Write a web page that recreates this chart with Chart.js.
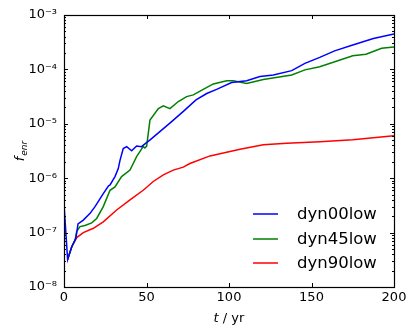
<!DOCTYPE html>
<html>
<head>
<meta charset="utf-8">
<script src="https://cdn.jsdelivr.net/npm/chart.js@4/dist/chart.umd.min.js"></script>
<style>
html,body{margin:0;padding:0;background:#fff;}
#wrap{width:415px;height:335px;position:relative;}
</style>
</head>
<body>
<div id="wrap"><canvas id="c" width="415" height="335"></canvas></div>
<script>
// ---- data ----
const seriesNames = ['dyn00low', 'dyn45low', 'dyn90low'];

const dyn00lowT = [0, 2.2, 4.7, 7.2, 8.5, 11.7, 15.8, 18.8, 23.8, 26.9, 27.9, 30.9, 32.9, 33.9, 35.9, 38, 41, 44, 47, 50, 52, 64, 72, 80, 86.5, 92.5, 101.6, 110.7, 118.8, 126.9, 138, 146, 155, 164, 175, 187.5, 200];
const dyn00lowF = [3.3e-7, 3.2e-8, 5.5e-8, 7.9e-8, 1.45e-7, 1.7e-7, 2.26e-7, 3.0e-7, 5.2e-7, 7.2e-7, 7.5e-7, 1.07e-6, 1.5e-6, 2.1e-6, 3.5e-6, 3.8e-6, 3.2e-6, 3.9e-6, 3.8e-6, 4.5e-6, 5.0e-6, 1.02e-5, 1.66e-5, 2.75e-5, 3.6e-5, 4.3e-5, 5.75e-5, 6.2e-5, 7.4e-5, 7.9e-5, 9.5e-5, 1.29e-4, 1.66e-4, 2.19e-4, 2.8e-4, 3.7e-4, 4.5e-4];

const dyn45lowT = [2.2, 4.7, 6.7, 7.7, 9.7, 12.7, 16.8, 19.8, 23.8, 27.9, 30.9, 34.9, 40, 44, 48, 49, 50.1, 52.1, 57.2, 60.2, 64.2, 69.3, 74.3, 78.4, 84.4, 90.5, 98.6, 102.6, 110.7, 120.8, 138, 146, 155, 175, 183, 192.5, 200];
const dyn45lowF = [3.2e-8, 5.5e-8, 7.2e-8, 1.05e-7, 1.29e-7, 1.35e-7, 1.51e-7, 1.82e-7, 3.0e-7, 6.0e-7, 6.9e-7, 1.07e-6, 1.41e-6, 2.5e-6, 3.8e-6, 3.6e-6, 3.9e-6, 1.17e-5, 1.9e-5, 2.14e-5, 1.9e-5, 2.57e-5, 3.16e-5, 3.4e-5, 4.3e-5, 5.4e-5, 6.2e-5, 6.2e-5, 5.5e-5, 6.5e-5, 7.9e-5, 9.8e-5, 1.12e-4, 1.78e-4, 1.9e-4, 2.45e-4, 2.57e-4];

const dyn90lowT = [2.2, 4.7, 7.7, 11.7, 17.8, 23.8, 31.9, 40, 48, 54.1, 60.2, 66.2, 72.3, 76.3, 88.5, 100.6, 106.7, 120.8, 135, 155, 175, 200];
const dyn90lowF = [3.2e-8, 5.5e-8, 8.1e-8, 1.0e-7, 1.2e-7, 1.58e-7, 2.6e-7, 4.0e-7, 6.0e-7, 8.7e-7, 1.15e-6, 1.41e-6, 1.6e-6, 1.86e-6, 2.57e-6, 3.1e-6, 3.4e-6, 4.1e-6, 4.4e-6, 4.7e-6, 5.1e-6, 6.0e-6];

const xTicks = [0, 50, 100, 150, 200];
const yTicks = [1e-8, 1e-7, 1e-6, 1e-5, 1e-4, 1e-3];
const yTickLabels = ['10⁻⁸', '10⁻⁷', '10⁻⁶', '10⁻⁵', '10⁻⁴', '10⁻³'];

// ---- helpers ----
function pts(t, f) { return t.map((v, i) => ({x: v, y: f[i]})); }
const FONT = "'DejaVu Sans', sans-serif";

const framePlugin = {
  id: 'frame',
  afterDatasetsDraw(chart) {
    const ctx = chart.ctx;
    const a = chart.chartArea;
    const xs = chart.scales.x, ys = chart.scales.y;
    ctx.save();
    ctx.strokeStyle = '#000';
    ctx.lineWidth = 1;
    ctx.beginPath();
    for (let d = 0; d < yTicks.length; d++) {
      const base = yTicks[d];
      const py = Math.round(ys.getPixelForValue(base)) + 0.5;
      ctx.moveTo(a.left, py); ctx.lineTo(a.left + 4, py);
      ctx.moveTo(a.right, py); ctx.lineTo(a.right - 4, py);
      if (d < yTicks.length - 1) {
        for (let m = 2; m <= 9; m++) {
          const my = Math.round(ys.getPixelForValue(base * m)) + 0.5;
          ctx.moveTo(a.left, my); ctx.lineTo(a.left + 2, my);
          ctx.moveTo(a.right, my); ctx.lineTo(a.right - 2, my);
        }
      }
    }
    xTicks.forEach(v => {
      const px = Math.round(xs.getPixelForValue(v)) + 0.5;
      ctx.moveTo(px, a.bottom); ctx.lineTo(px, a.bottom - 4);
      ctx.moveTo(px, a.top); ctx.lineTo(px, a.top + 4);
    });
    ctx.stroke();
    ctx.lineWidth = 1.2;
    ctx.strokeRect(Math.round(a.left) + 0.5, Math.round(a.top) + 0.5, Math.round(a.right - a.left), Math.round(a.bottom - a.top));

    // legend (no frame), inside lower right
    ctx.font = '16.5px ' + FONT;
    ctx.textBaseline = 'middle';
    ctx.textAlign = 'left';
    const offs = [73, 48, 24];
    chart.data.datasets.forEach((ds, i) => {
      const y = a.bottom - offs[i];
      ctx.strokeStyle = ds.borderColor;
      ctx.lineWidth = 1.5;
      ctx.beginPath();
      ctx.moveTo(a.right - 141, y); ctx.lineTo(a.right - 116, y);
      ctx.stroke();
      ctx.fillStyle = '#000';
      ctx.fillText(ds.label, a.right - 97, y + 1);
    });

    // axis titles
    ctx.fillStyle = '#000';
    ctx.textBaseline = 'alphabetic';
    const cx = (a.left + a.right) / 2;
    const by = a.bottom + 35;
    ctx.font = 'italic 13px ' + FONT;
    const wT = ctx.measureText('t').width;
    ctx.font = '13px ' + FONT;
    const rest = ' / yr';
    const wR = ctx.measureText(rest).width;
    let sx = cx - (wT + wR) / 2;
    ctx.font = 'italic 13px ' + FONT;
    ctx.fillText('t', sx, by);
    ctx.font = '13px ' + FONT;
    ctx.fillText(rest, sx + wT, by);

    ctx.translate(24, (a.top + a.bottom) / 2);
    ctx.rotate(-Math.PI / 2);
    ctx.font = 'italic 13px ' + FONT;
    const wf = ctx.measureText('f').width;
    ctx.font = 'italic 9px ' + FONT;
    const we = ctx.measureText('enr').width;
    const s0 = -(wf + we + 1) / 2;
    ctx.font = 'italic 13px ' + FONT;
    ctx.fillText('f', s0, 0);
    ctx.font = 'italic 9px ' + FONT;
    ctx.fillText('enr', s0 + wf + 1, 3);
    ctx.restore();
  }
};

new Chart(document.getElementById('c'), {
  type: 'line',
  data: {
    datasets: [
      {label: seriesNames[0], data: pts(dyn00lowT, dyn00lowF), borderColor: '#0000ff'},
      {label: seriesNames[1], data: pts(dyn45lowT, dyn45lowF), borderColor: '#008000'},
      {label: seriesNames[2], data: pts(dyn90lowT, dyn90lowF), borderColor: '#ff0000'}
    ]
  },
  options: {
    responsive: false,
    animation: false,
    layout: {padding: {top: 15, right: 21, left: 0, bottom: 0}},
    elements: {
      line: {borderWidth: 1.5, tension: 0, fill: false},
      point: {radius: 0}
    },
    plugins: {legend: {display: false}, tooltip: {enabled: false}},
    scales: {
      x: {
        type: 'linear', min: 0, max: 200,
        grid: {display: false, drawTicks: false},
        border: {display: false},
        ticks: {stepSize: 50, padding: 3, color: '#000', font: {family: FONT, size: 13}, maxRotation: 0},
        afterBuildTicks(s) { s.ticks = xTicks.map(v => ({value: v})); },
        afterFit(s) { s.height = 48; }
      },
      y: {
        type: 'logarithmic', min: 1e-8, max: 1e-3,
        grid: {display: false, drawTicks: false},
        border: {display: false},
        ticks: {
          padding: 7, color: '#000', font: {family: FONT, size: 13},
          callback(v) { const i = yTicks.findIndex(t => Math.abs(t - v) / t < 1e-6); return i >= 0 ? yTickLabels[i] : ''; }
        },
        afterBuildTicks(s) { s.ticks = yTicks.map(v => ({value: v, major: true})); },
        afterFit(s) { s.width = 64; }
      }
    }
  },
  plugins: [framePlugin]
});
</script>
</body>
</html>
